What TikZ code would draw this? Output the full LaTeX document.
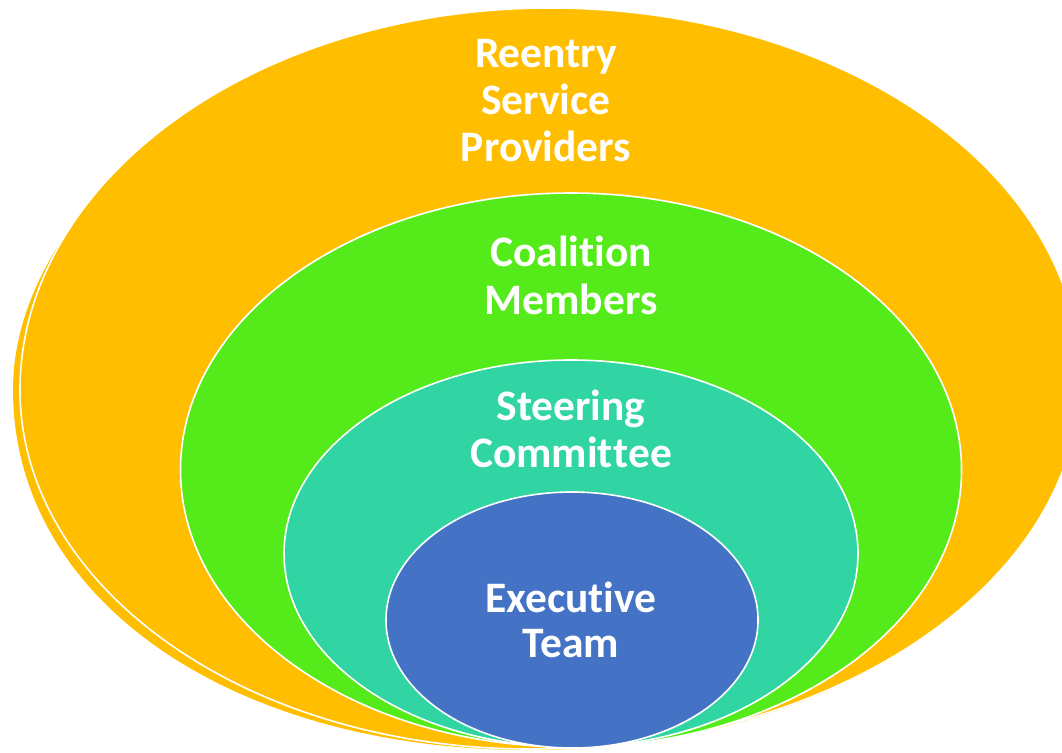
\documentclass[tikz,border=0pt]{standalone}
\usepackage{fontspec}
\setmainfont{Carlito}[Ligatures=NoCommon]
\definecolor{orangeC}{HTML}{FFBF00}
\definecolor{greenC}{HTML}{55EB1B}
\definecolor{tealC}{HTML}{30D5A3}
\definecolor{blueC}{HTML}{4472C4}
\newcommand{\tbreak}{\kern0pt }
\begin{document}
\begin{tikzpicture}[x=1pt,y=-1pt,
  ring/.style={draw=white, line width=1.6pt},
  lbl/.style={anchor=base, text=white, inner sep=0pt,
    font=\fontsize{43.5}{47}\selectfont\bfseries}]
\useasboundingbox (0,0) rectangle (1062,752);
\clip (0,0) rectangle (1062,752);
\fill[white] (0,0) rectangle (1062,752);
% back orange
\fill[orangeC] (550,8) .. controls (842.7,8) and (1080,173.6) .. (1080,378)
  .. controls (1080,583) and (834,750) .. (530,750)
  .. controls (230,750) and (13,599) .. (13,390)
  .. controls (13,199) and (257,8) .. (550,8) -- cycle;
% front orange
\filldraw[ring, fill=orangeC] (550,8) .. controls (842.7,8) and (1080,173.6) .. (1080,378)
  .. controls (1080,582.9) and (833.8,749) .. (530,749)
  .. controls (248.3,749) and (20,588.3) .. (20,390)
  .. controls (20,179) and (257.3,8) .. (550,8) -- cycle;
% inner rings
\filldraw[ring, fill=greenC] (571,470) ellipse [x radius=390.5pt, y radius=277pt];
\filldraw[ring, fill=tealC] (571,553.5) ellipse [x radius=287pt, y radius=193.5pt];
\filldraw[ring, fill=blueC] (572,620) ellipse [x radius=186pt, y radius=128pt];
% labels
\node[lbl] (r1) at (546,67) {Reentry};
\node[lbl] (r2) at (546,114) {Service};
\node[lbl] (r3) at (546,161) {Providers};
\node[lbl] (c1) at (571,266) {Coalit\tbreak ion};
\node[lbl] (c2) at (571,314) {Members};
\node[lbl] (s1) at (571,420) {Steering};
\node[lbl] (s2) at (571,467) {Commit\tbreak t\tbreak ee};
\node[lbl] (e1) at (571,612) {Execut\tbreak ive};
\node[lbl] (e2) at (571,657) {Team};
\end{tikzpicture}
\end{document}
